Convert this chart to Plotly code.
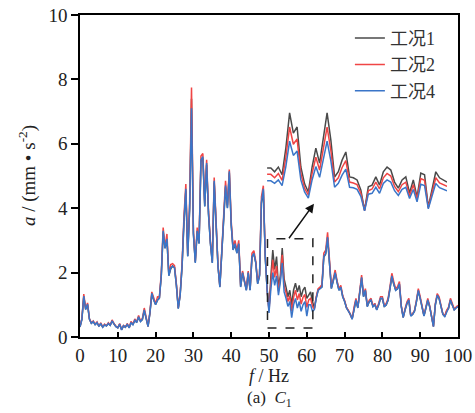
import plotly.graph_objects as go

# ---------------- data ----------------
freq = [i * 0.5 for i in range(201)]  # Hz, 0 .. 100

case1 = [  # 工况1
    0.31,0.55,1.25,0.86,1.00,0.56,0.43,0.47,0.39,0.44,
    0.34,0.41,0.31,0.37,0.35,0.41,0.37,0.49,0.41,0.33,
    0.29,0.39,0.23,0.34,0.31,0.39,0.29,0.44,0.39,0.50,
    0.46,0.61,0.49,0.54,0.82,0.56,0.33,0.74,1.33,1.16,
    1.01,1.14,1.21,1.88,3.25,2.76,3.02,1.91,2.12,2.21,
    2.16,1.61,0.89,1.31,2.18,3.55,4.55,2.52,3.95,7.40,
    3.22,2.32,3.28,2.91,5.45,5.55,4.06,5.35,3.82,2.91,
    2.31,4.80,3.42,2.21,1.56,2.58,3.28,4.65,4.02,5.10,
    3.48,2.71,2.88,2.61,2.88,1.56,1.99,1.71,1.46,1.99,
    1.46,2.48,2.58,2.31,1.66,1.91,4.15,4.55,2.52,1.50,
    0.85,1.90,2.70,2.10,2.50,1.55,1.90,2.76,1.80,1.55,
    1.25,1.45,1.00,1.46,1.67,1.40,1.60,1.25,1.46,1.55,
    1.20,1.30,1.40,1.10,0.90,1.22,1.46,1.51,1.56,2.48,
    2.58,3.08,2.21,1.51,1.74,1.99,1.71,1.46,1.54,1.26,
    1.11,0.91,0.81,0.71,0.56,0.89,1.14,0.91,1.34,1.83,
    1.26,1.44,0.95,1.09,1.14,0.95,1.01,0.85,0.99,1.19,
    1.19,0.95,0.99,1.14,1.49,1.88,1.64,1.46,1.49,1.64,
    0.95,0.61,0.84,1.04,1.14,0.66,0.71,0.81,1.09,1.44,
    1.19,0.95,0.66,0.89,1.14,0.95,0.61,0.33,0.99,1.29,
    1.19,0.95,0.71,0.64,0.81,0.89,1.14,0.99,0.85,0.91,
    0.94]

case2 = [  # 工况2
    0.32,0.58,1.33,0.88,1.06,0.56,0.44,0.50,0.40,0.47,
    0.34,0.44,0.31,0.40,0.35,0.44,0.37,0.53,0.41,0.33,
    0.29,0.42,0.23,0.36,0.31,0.42,0.29,0.48,0.40,0.56,
    0.47,0.67,0.50,0.58,0.90,0.57,0.33,0.78,1.40,1.22,
    1.03,1.25,1.24,1.98,3.40,2.80,3.20,1.95,2.25,2.28,
    2.22,1.65,0.90,1.35,2.28,3.75,4.75,2.58,4.15,7.75,
    3.30,2.35,3.40,2.98,5.62,5.70,4.15,5.50,3.90,2.98,
    2.35,4.95,3.50,2.25,1.58,2.68,3.40,4.85,4.10,5.20,
    3.60,2.78,3.00,2.68,3.00,1.60,2.05,1.75,1.48,2.05,
    1.48,2.60,2.68,2.35,1.70,1.95,4.35,4.70,2.55,1.48,
    0.80,1.70,2.40,1.85,2.20,1.42,1.80,2.55,1.60,1.38,
    1.10,1.28,0.80,1.23,1.45,1.15,1.35,1.02,1.23,1.32,
    0.92,1.15,1.20,0.95,0.87,1.25,1.50,1.55,1.62,2.60,
    2.70,3.25,2.30,1.55,1.80,2.08,1.75,1.50,1.60,1.28,
    1.13,0.92,0.83,0.72,0.57,0.93,1.20,0.93,1.40,1.92,
    1.30,1.50,0.97,1.14,1.20,0.97,1.04,0.87,1.04,1.25,
    1.25,0.97,1.04,1.20,1.56,1.98,1.72,1.50,1.56,1.72,
    0.97,0.62,0.88,1.09,1.20,0.67,0.72,0.83,1.14,1.50,
    1.25,0.97,0.67,0.93,1.20,0.97,0.62,0.33,1.04,1.35,
    1.25,0.97,0.72,0.65,0.83,0.93,1.20,1.04,0.87,0.93,
    0.98]

case4 = [  # 工况4
    0.32,0.55,1.27,0.85,1.02,0.55,0.42,0.48,0.38,0.45,
    0.33,0.42,0.30,0.38,0.34,0.42,0.36,0.50,0.40,0.32,
    0.28,0.40,0.22,0.35,0.30,0.40,0.28,0.45,0.38,0.52,
    0.45,0.63,0.48,0.55,0.84,0.55,0.32,0.75,1.36,1.15,
    1.00,1.15,1.20,1.90,3.30,2.75,3.05,1.90,2.15,2.20,
    2.15,1.60,0.88,1.30,2.20,3.60,4.60,2.50,4.00,7.10,
    3.20,2.30,3.30,2.90,5.50,5.60,4.05,5.40,3.80,2.90,
    2.30,4.85,3.40,2.20,1.55,2.60,3.30,4.70,4.00,5.15,
    3.50,2.70,2.90,2.60,2.90,1.55,2.00,1.70,1.45,2.00,
    1.45,2.50,2.60,2.30,1.65,1.90,4.20,4.60,2.50,1.45,
    0.75,1.50,2.00,1.60,1.90,1.30,1.70,2.30,1.40,1.20,
    0.95,1.10,0.60,1.00,1.20,0.90,1.10,0.80,1.00,1.10,
    0.65,1.00,1.00,0.80,0.85,1.20,1.45,1.50,1.55,2.50,
    2.60,3.10,2.20,1.50,1.75,2.00,1.70,1.45,1.55,1.25,
    1.10,0.90,0.80,0.70,0.55,0.90,1.15,0.90,1.35,1.85,
    1.25,1.45,0.94,1.10,1.15,0.94,1.00,0.84,1.00,1.20,
    1.20,0.94,1.00,1.15,1.50,1.90,1.65,1.45,1.50,1.65,
    0.94,0.60,0.85,1.05,1.15,0.65,0.70,0.80,1.10,1.45,
    1.20,0.94,0.65,0.90,1.15,0.94,0.60,0.32,1.00,1.30,
    1.20,0.94,0.70,0.63,0.80,0.90,1.15,1.00,0.84,0.90,
    0.95]

# magnified view of 50-62 Hz (inset)
inset_freq = [50 + 0.25 * k for k in range(49)]
inset_case1 = [1.49,1.49,1.40,1.51,1.33,1.95,2.77,2.30,2.44,1.51,
               1.12,0.93,1.51,1.95,1.60,2.21,2.77,2.14,1.28,1.40,
               1.67,1.86,1.28,1.26,1.21,0.98,0.51,1.05,1.09,1.28,
               1.09,1.40,1.51,1.44,1.16,1.02,1.21,1.28,0.91,1.21,
               0.81,1.37,1.33,0.58,0.98,1.40,1.26,1.21,1.16]
inset_case2 = [1.34,1.34,1.26,1.36,1.20,1.74,2.44,2.04,2.16,1.36,
               1.02,0.86,1.36,1.74,1.44,1.96,2.44,1.90,1.16,1.26,
               1.50,1.66,1.16,1.14,1.10,0.90,0.50,0.96,1.00,1.16,
               1.00,1.26,1.36,1.30,1.06,0.94,1.10,1.16,0.84,1.10,
               0.76,1.24,1.20,0.56,0.90,1.26,1.14,1.10,1.06]
inset_case4 = [1.19,1.19,1.13,1.21,1.08,1.52,2.11,1.78,1.88,1.21,
               0.93,0.79,1.21,1.52,1.27,1.71,2.11,1.66,1.04,1.13,
               1.32,1.46,1.04,1.03,0.99,0.83,0.49,0.88,0.90,1.04,
               0.90,1.13,1.21,1.16,0.96,0.85,0.99,1.04,0.78,0.99,
               0.70,1.11,1.08,0.54,0.83,1.13,1.03,0.99,0.96]

names = ["工况1", "工况2", "工况4"]
colors = ["#4a4a4a", "#f04545", "#3a75c8"]

# ---------------- figure ----------------
SERIF = "Liberation Serif, Noto Sans CJK SC, serif"
fig = go.Figure()

for name, ys, c in zip(names, [case1, case2, case4], colors):
    fig.add_trace(go.Scatter(x=freq, y=ys, mode="lines", name=name,
                             line=dict(color=c, width=1.5)))

for ys, c in zip([inset_case1, inset_case2, inset_case4], colors):
    fig.add_trace(go.Scatter(x=inset_freq, y=ys, mode="lines", showlegend=False,
                             line=dict(color=c, width=1.5),
                             xaxis="x2", yaxis="y2"))

fig.update_layout(
    width=475, height=413,
    margin=dict(l=80, r=17, t=15, b=76, autoexpand=False),
    paper_bgcolor="white", plot_bgcolor="white",
    font=dict(family=SERIF, size=19, color="#222"),
    showlegend=True,
    legend=dict(x=0.714, y=0.985, xanchor="left", yanchor="top",
                bgcolor="rgba(0,0,0,0)", tracegroupgap=0,
                font=dict(family=SERIF, size=18, color="#333")),
    xaxis=dict(range=[0, 100], tickvals=list(range(0, 101, 10)),
               ticks="inside", ticklen=5, tickwidth=1.5, tickcolor="black",
               showline=True, linecolor="black", linewidth=1.5, mirror=True,
               showgrid=False, zeroline=False, automargin=False,
               tickfont=dict(family=SERIF, size=19, color="#222")),
    yaxis=dict(range=[0, 10], tickvals=list(range(0, 11, 2)),
               ticks="outside", ticklen=7, tickwidth=1.5, tickcolor="black",
               showline=True, linecolor="black", linewidth=1.5, mirror=True,
               showgrid=False, zeroline=False, automargin=False,
               tickfont=dict(family=SERIF, size=19, color="#222")),
    xaxis2=dict(domain=[0.495, 0.971], range=[50, 62], anchor="y2",
                visible=False),
    yaxis2=dict(domain=[0.326, 0.727], range=[0, 3], anchor="x2",
                visible=False),
)

# dashed box around 50-62 Hz
fig.add_shape(type="rect", xref="x", yref="y", x0=49.6, x1=61.6, y0=0.28, y1=3.05,
              line=dict(color="#222", width=1.5, dash="dash"))

# arrow to the inset
fig.add_annotation(x=61.9, y=4.14, ax=55.0, ay=3.02, xref="x", yref="y",
                   axref="x", ayref="y", text="", showarrow=True,
                   arrowhead=2, arrowsize=1.2, arrowwidth=1.5, arrowcolor="#111")

# axis titles & caption
fig.add_annotation(x=-0.14, y=0.5, xref="paper", yref="paper",
                   text="<i>a</i> / (mm • s<sup>-2</sup>)", textangle=-90,
                   showarrow=False, xanchor="center", yanchor="middle",
                   font=dict(family=SERIF, size=19, color="#222"))
fig.add_annotation(x=0.5, y=-0.122, xref="paper", yref="paper",
                   text="<i>f</i> / Hz", showarrow=False,
                   xanchor="center", yanchor="middle",
                   font=dict(family=SERIF, size=18, color="#222"))
fig.add_annotation(x=0.5, y=-0.194, xref="paper", yref="paper",
                   text="(a)  <i>C</i><sub>1</sub>", showarrow=False,
                   xanchor="center", yanchor="middle",
                   font=dict(family=SERIF, size=17, color="#222"))

fig.write_html("out.html")
